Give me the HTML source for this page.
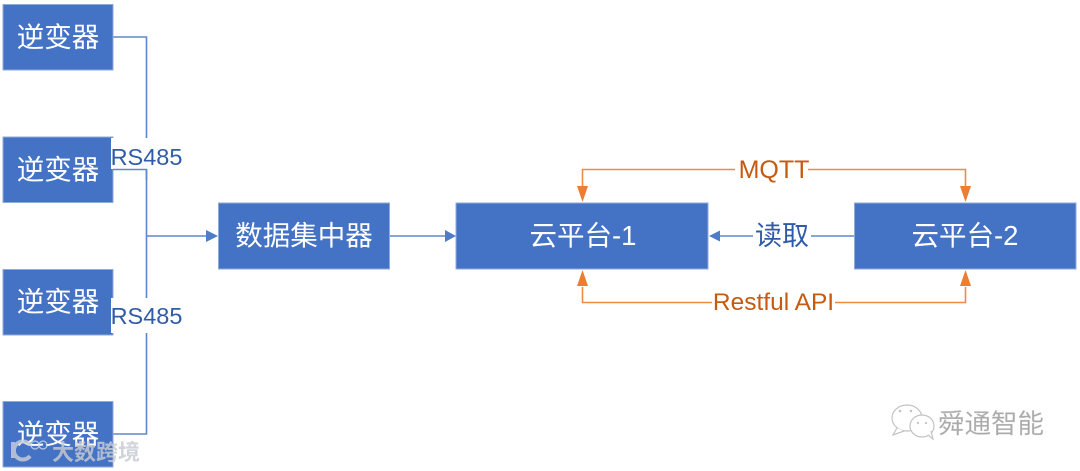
<!DOCTYPE html>
<html lang="zh">
<head>
<meta charset="utf-8">
<style>
html,body{margin:0;padding:0;background:#fff;width:1080px;height:471px;overflow:hidden}
svg{display:block;filter:blur(.35px)}
text{font-family:"Liberation Sans","Noto Sans CJK SC",sans-serif}
.b{fill:#4472c4;stroke:#8fabd9;stroke-width:1}
.w{fill:#fff;font-size:27.500px;text-anchor:middle}
.l{fill:none;stroke:#5f87cb;stroke-width:1.600}
.o{fill:none;stroke:#ed7d31;stroke-width:1.600;opacity:.9}
.t{fill:#2f5ca8;font-size:23.500px;text-anchor:middle}
.r{fill:#c55a11;font-size:25px;text-anchor:middle}
</style>
</head>
<body>
<svg width="1080" height="471" viewBox="0 0 1080 471" xmlns="http://www.w3.org/2000/svg">
<rect width="1080" height="471" fill="#fff"/>

<!-- connectors left -->
<path class="l" d="M113 37H146.500V434H113"/>
<path class="l" d="M146.500 236H208"/>
<polygon points="206,230 218,236 206,242" fill="#4f7cc8"/>
<path class="l" d="M390 236H446"/>
<polygon points="445,230 456,236 445,242" fill="#4f7cc8"/>

<!-- boxes -->
<rect class="b" x="3" y="4.500" width="110" height="65.500"/>
<rect class="b" x="3" y="137" width="110" height="65.500"/>
<rect class="b" x="3" y="269.500" width="110" height="65.500"/>
<rect class="b" x="3" y="401.500" width="110" height="65.500"/>
<rect class="b" x="218.500" y="203" width="171" height="66"/>
<rect class="b" x="456" y="203" width="252" height="66"/>
<rect class="b" x="854.500" y="203" width="221.500" height="66"/>

<text class="w" x="58" y="46.500">逆变器</text>
<text class="w" x="58" y="179">逆变器</text>
<text class="w" x="58" y="311">逆变器</text>
<text class="w" x="58" y="443.500">逆变器</text>
<text class="w" x="304" y="245">数据集中器</text>
<text class="w" x="583" y="245">云平台-1</text>
<text class="w" x="965" y="245">云平台-2</text>

<!-- RS485 labels -->
<rect x="111" y="138" width="71" height="31" fill="#fff"/>
<rect x="111" y="298" width="71" height="35" fill="#fff"/>
<path class="l" d="M113 169.500H146.500V180"/>
<text class="t" x="146.500" y="165">RS485</text>
<text class="t" x="146.500" y="324">RS485</text>

<!-- orange connectors -->
<path class="o" d="M735 169.500H582.500V186"/>
<path class="o" d="M808 169.500H965.500V186"/>
<polygon points="577,186 588,186 582.500,202" fill="#ed7d31"/>
<polygon points="960,186 971,186 965.500,202" fill="#ed7d31"/>
<text class="r" x="774" y="178">MQTT</text>

<path class="o" d="M712 302.500H582.500V287"/>
<path class="o" d="M835 302.500H965.500V287"/>
<polygon points="577,286 588,286 582.500,270" fill="#ed7d31"/>
<polygon points="960,286 971,286 965.500,270" fill="#ed7d31"/>
<text class="r" x="773.500" y="310" style="font-size:24.500px">Restful API</text>

<!-- read connector -->
<path class="l" d="M720 236H753"/>
<path class="l" d="M811 236H854"/>
<polygon points="709,236 720,230.500 720,241.500" fill="#4f7cc8"/>
<text class="t" x="782" y="245" style="font-size:27px">读取</text>

<!-- bottom-left watermark -->
<g opacity=".82">
<path d="M13 442V458" stroke="#c9ced8" stroke-width="4" fill="none"/>
<path d="M30 445A9 9 0 1 0 30 456" stroke="#c9ced8" stroke-width="4" fill="none"/>
<circle cx="35" cy="445" r="4" stroke="#d8dce4" stroke-width="1.200" fill="none"/>
<circle cx="43" cy="445" r="4" stroke="#d8dce4" stroke-width="1.200" fill="none"/>
<text x="52" y="460" style="font-size:22px;font-weight:bold;fill:#c8ccd3">大数跨境</text>
</g>

<!-- bottom-right WeChat watermark -->
<g fill="#fff" stroke="#c3c3c3" stroke-width="1.200">
<ellipse cx="907" cy="418" rx="15" ry="13"/>
<path d="M897 428L893 435L904 431" />
<ellipse cx="922" cy="426" rx="12" ry="11"/>
<path d="M928 435L933 439L931 431"/>
</g>
<g fill="#c3c3c3">
<circle cx="900" cy="411" r="1.300"/><circle cx="911" cy="411" r="1.300"/>
<circle cx="918" cy="423" r="1.100"/><circle cx="926" cy="423" r="1.100"/>
</g>
<text x="938" y="433" style="font-size:26.500px;fill:#a9a9a9;stroke:#d8d8d8;stroke-width:.3">舜通智能</text>
</svg>
</body>
</html>
